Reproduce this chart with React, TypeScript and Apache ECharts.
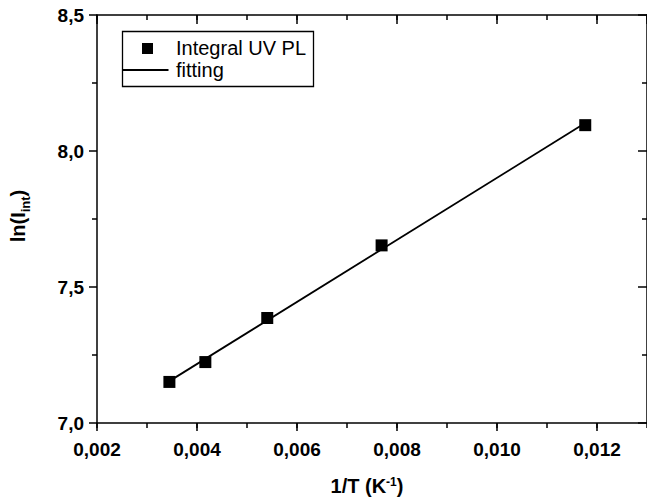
import React, { useEffect, useRef } from 'react';
import * as echarts from 'echarts';

// Data
const invT = [0.003448, 0.004167, 0.005405, 0.007692, 0.011765];
const lnI = [7.151, 7.224, 7.386, 7.653, 8.095];
const fitX = [0.003448, 0.011765];
const fitY = [7.154, 8.103];
const seriesNames = ['Integral UV PL', 'fitting'];
const xRange = [0.002, 0.013];
const yRange = [7.0, 8.5];
const xTitle = '1/T (K';
const xTitleSup = '-1';
const yTitle = 'ln(I';
const yTitleSub = 'int';

const FONT = '"Liberation Sans", Arial, Helvetica, sans-serif';
const BLACK = '#000';

export default function App() {
  const ref = useRef<HTMLDivElement>(null);

  useEffect(() => {
    document.body.style.margin = '0';
    if (!ref.current) return;
    const chart = echarts.init(ref.current, undefined, { renderer: 'svg' });

    const lineStyle = { color: BLACK, width: 1.5 };
    const hiddenLabel = { show: false };
    const noSplit = { show: false };

    const xBase = {
      type: 'value' as const,
      min: xRange[0],
      max: xRange[1],
      splitLine: noSplit,
    };
    const yBase = {
      type: 'value' as const,
      min: yRange[0],
      max: yRange[1],
      interval: 0.5,
      splitLine: noSplit,
    };

    const option: any = {
      animation: false,
      backgroundColor: '#fff',
      grid: { left: 97, top: 15, right: -3, bottom: 75, containLabel: false },
      xAxis: [
        {
          ...xBase,
          position: 'bottom',
          interval: 0.002,
          axisLine: { show: true, onZero: false, lineStyle },
          axisTick: { show: true, inside: false, length: 8, lineStyle },
          axisLabel: {
            show: true,
            margin: 17,
            fontSize: 19,
            fontWeight: 'bold',
            fontFamily: FONT,
            color: BLACK,
            showMaxLabel: false,
            formatter: (v: number) => v.toFixed(3).replace('.', ','),
          },
        },
        {
          ...xBase,
          position: 'bottom',
          interval: 0.001,
          axisLine: { show: false, onZero: false },
          axisTick: { show: true, inside: false, length: 5, lineStyle },
          axisLabel: hiddenLabel,
        },
        {
          ...xBase,
          position: 'top',
          interval: 0.002,
          axisLine: { show: true, onZero: false, lineStyle },
          axisTick: { show: true, inside: true, length: 9, lineStyle },
          axisLabel: hiddenLabel,
        },
        {
          ...xBase,
          position: 'top',
          interval: 0.001,
          axisLine: { show: false, onZero: false },
          axisTick: { show: true, inside: true, length: 5, lineStyle },
          axisLabel: hiddenLabel,
        },
      ],
      yAxis: [
        {
          ...yBase,
          position: 'left',
          axisLine: { show: true, onZero: false, lineStyle },
          axisTick: { show: true, inside: false, length: 8, lineStyle },
          minorTick: { show: true, splitNumber: 2, length: 5, lineStyle },
          axisLabel: {
            show: true,
            margin: 13,
            fontSize: 19,
            fontWeight: 'bold',
            fontFamily: FONT,
            color: BLACK,
            formatter: (v: number) => v.toFixed(1).replace('.', ','),
          },
        },
        {
          ...yBase,
          position: 'right',
          axisLine: { show: true, onZero: false, lineStyle },
          axisTick: { show: true, inside: true, length: 9, lineStyle },
          minorTick: { show: true, splitNumber: 2, length: 5, lineStyle },
          axisLabel: hiddenLabel,
        },
      ],
      series: [
        {
          type: 'line',
          name: seriesNames[1],
          xAxisIndex: 0,
          yAxisIndex: 0,
          data: fitX.map((x, i) => [x, fitY[i]]),
          symbol: 'none',
          lineStyle: { color: BLACK, width: 1.8 },
          z: 2,
        },
        {
          type: 'scatter',
          name: seriesNames[0],
          xAxisIndex: 0,
          yAxisIndex: 0,
          data: invT.map((x, i) => [x, lnI[i]]),
          symbol: 'rect',
          symbolSize: 12,
          itemStyle: { color: BLACK, opacity: 1, borderWidth: 0 },
          z: 3,
        },
      ],
      graphic: [
        {
          type: 'rect',
          shape: { x: 122.5, y: 31.5, width: 191, height: 55 },
          style: { fill: '#fff', stroke: BLACK, lineWidth: 1.3 },
          z: 10,
        },
        {
          type: 'rect',
          shape: { x: 142, y: 43, width: 11, height: 11 },
          style: { fill: BLACK },
          z: 11,
        },
        {
          type: 'line',
          shape: { x1: 122.5, y1: 70, x2: 168.5, y2: 70 },
          style: { stroke: BLACK, lineWidth: 2 },
          z: 11,
        },
        {
          type: 'text',
          x: 176,
          y: 48,
          z: 11,
          style: {
            text: seriesNames[0],
            fontSize: 20,
            fontFamily: FONT,
            fill: BLACK,
            align: 'left',
            verticalAlign: 'middle',
          },
        },
        {
          type: 'text',
          x: 176,
          y: 70,
          z: 11,
          style: {
            text: seriesNames[1],
            fontSize: 20,
            fontFamily: FONT,
            fill: BLACK,
            align: 'left',
            verticalAlign: 'middle',
          },
        },
        {
          type: 'text',
          x: 367,
          y: 487,
          z: 11,
          style: {
            text: `{a|${xTitle}}{s|${xTitleSup}}{a|)}`,
            align: 'center',
            verticalAlign: 'middle',
            rich: {
              a: { fontSize: 20, fontWeight: 'bold', fontFamily: FONT, fill: BLACK, lineHeight: 22, verticalAlign: 'top' },
              s: { fontSize: 12, fontWeight: 'bold', fontFamily: FONT, fill: BLACK, lineHeight: 13, verticalAlign: 'top' },
            },
          },
        },
        {
          type: 'text',
          x: 19,
          y: 216,
          rotation: Math.PI / 2,
          z: 11,
          style: {
            text: `{a|${yTitle}}{b|${yTitleSub}}{a|)}`,
            align: 'center',
            verticalAlign: 'middle',
            rich: {
              a: { fontSize: 20, fontWeight: 'bold', fontFamily: FONT, fill: BLACK, lineHeight: 22, verticalAlign: 'top' },
              b: { fontSize: 13, fontWeight: 'bold', fontFamily: FONT, fill: BLACK, lineHeight: 14, verticalAlign: 'top', padding: [11, 0, 0, 0] },
            },
          },
        },
      ],
    };

    chart.setOption(option);
    return () => chart.dispose();
  }, []);

  return (
    <div
      ref={ref}
      style={{ position: 'absolute', left: 0, top: 0, width: 647, height: 498, background: '#fff' }}
    />
  );
}
